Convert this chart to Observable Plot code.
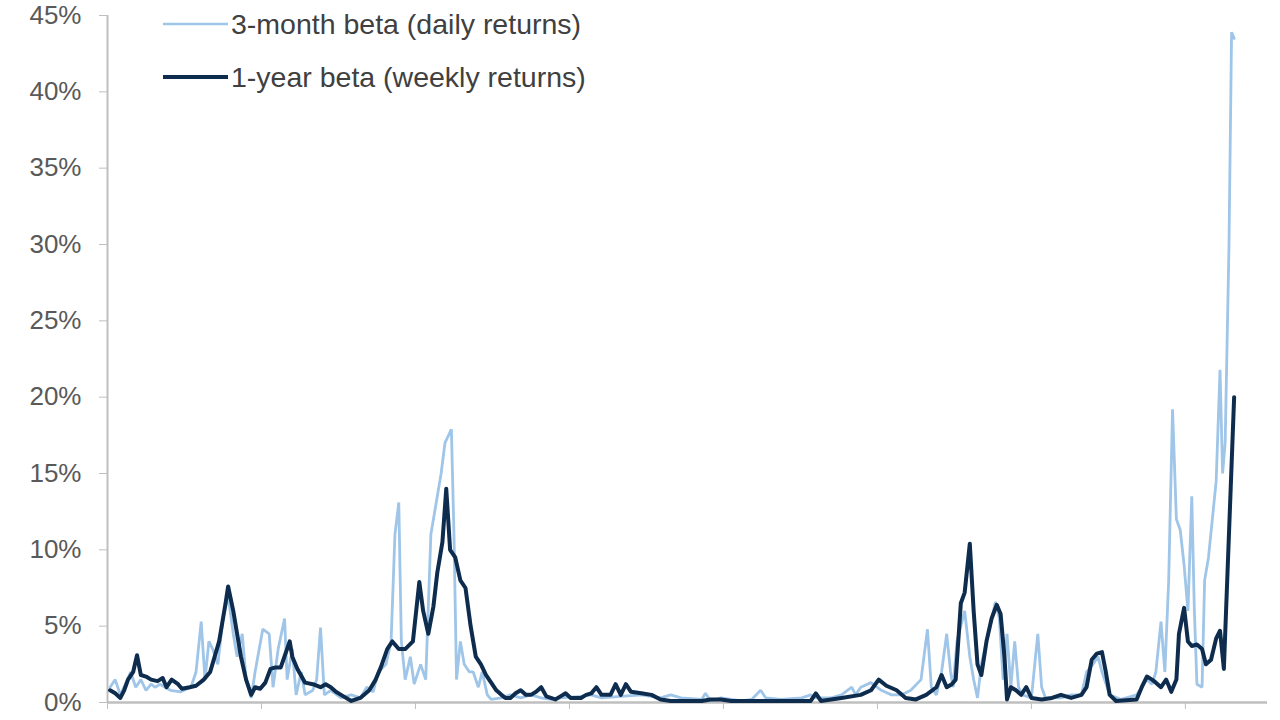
<!DOCTYPE html>
<html>
<head>
<meta charset="utf-8">
<script src="https://cdn.jsdelivr.net/npm/d3@7"></script>
<script src="https://cdn.jsdelivr.net/npm/@observablehq/plot@0.6"></script>
<style>
  html, body { margin: 0; padding: 0; background: #fff; }
  #wrap { position: relative; width: 1280px; height: 720px; overflow: hidden; }
  .legend-row { position: absolute; left: 163px; height: 30px; display: flex; align-items: center;
    font-family: "Liberation Sans", Arial, sans-serif; font-size: 28.5px; color: #404040; white-space: nowrap; }
  .legend-row svg { display: block; margin-right: 3px; }
</style>
</head>
<body>
<div id="wrap"></div>
<script>
// Series names (legend)
const seriesNames = ["3-month beta (daily returns)", "1-year beta (weekly returns)"];
const seriesColors = ["#9fc5e8", "#0e2c4e"];

// y-axis ticks (percent)
const yTicks = [0, 5, 10, 15, 20, 25, 30, 35, 40, 45];
// x-axis ticks (months since start of axis; one tick per year, labels not visible)
const xTicks = [0, 12, 24, 36, 48, 60, 72, 84];
const xEnd = 90.4;

// 3-month beta (daily returns): [month, percent]
const beta3m = [
  [0.2,1.0],[0.6,1.5],[1.0,0.5],[1.4,1.2],[1.8,2.0],[2.2,1.0],[2.6,1.5],[3.0,0.8],[3.4,1.2],[3.7,1.0],
  [4.1,1.2],[4.9,0.8],[5.7,0.7],[6.5,1.0],[6.9,2.0],[7.3,5.3],[7.6,1.5],[7.9,4.0],[8.2,3.5],[8.6,2.5],
  [9.0,5.5],[9.4,7.0],[9.8,4.5],[10.1,3.0],[10.5,4.5],[10.8,1.5],[11.2,0.3],[11.5,2.0],[12.1,4.8],[12.6,4.5],
  [12.9,1.0],[13.3,3.5],[13.8,5.5],[14.0,1.5],[14.4,3.5],[14.7,0.5],[15.1,2.0],[15.4,0.5],[16.0,0.8],[16.3,1.5],
  [16.6,4.9],[16.9,0.5],[17.4,0.8],[18.2,0.3],[19.0,0.5],[19.7,0.3],[20.2,1.0],[20.7,0.7],[21.1,2.0],[21.7,2.5],
  [22.1,4.0],[22.4,11.0],[22.7,13.1],[22.9,4.0],[23.2,1.5],[23.6,3.0],[23.9,1.2],[24.4,2.5],[24.8,1.5],[25.2,11.0],
  [25.6,13.0],[26.0,15.0],[26.3,17.0],[26.8,17.9],[27.0,11.0],[27.2,1.5],[27.5,4.0],[27.8,2.5],[28.2,2.0],[28.5,2.0],
  [28.9,1.0],[29.2,2.0],[29.6,0.5],[29.9,0.2],[30.7,0.3],[31.4,0.5],[32.2,0.3],[33.0,0.5],[33.8,0.3],[34.6,0.2],
  [35.3,0.3],[36.9,0.4],[37.7,0.5],[38.5,0.3],[40.0,0.4],[41.6,0.5],[43.1,0.3],[43.9,0.5],[44.7,0.3],[46.3,0.2],
  [46.6,0.6],[47.0,0.1],[47.8,0.3],[49.4,0.1],[50.2,0.2],[50.9,0.8],[51.3,0.3],[52.5,0.2],[54.1,0.3],[54.8,0.5],
  [55.2,0.3],[56.4,0.3],[57.2,0.5],[58.0,1.0],[58.3,0.5],[58.7,1.0],[59.5,1.3],[60.3,0.8],[61.1,0.5],[61.9,0.5],
  [62.6,0.8],[63.4,1.5],[63.9,4.8],[64.2,1.0],[64.6,0.5],[65.0,2.0],[65.4,4.5],[65.7,2.0],[65.9,1.0],[66.2,4.0],
  [66.5,5.0],[66.8,6.0],[67.2,3.0],[67.5,1.5],[67.8,0.3],[68.1,2.5],[68.5,4.0],[68.9,5.5],[69.2,6.6],[69.5,5.5],
  [69.8,1.5],[70.1,4.5],[70.4,1.0],[70.7,4.0],[71.0,1.0],[71.3,0.5],[72.0,0.3],[72.5,4.5],[72.8,1.0],[73.1,0.3],
  [74.3,0.3],[75.1,0.5],[75.9,0.5],[76.3,2.0],[76.8,2.5],[77.2,3.0],[77.5,2.0],[78.1,0.5],[79.0,0.2],[80.2,0.5],
  [80.6,1.0],[81.0,1.5],[81.4,1.2],[81.7,2.0],[82.1,5.3],[82.4,2.0],[82.7,8.0],[83.0,19.2],[83.3,12.0],[83.6,11.3],
  [83.9,9.0],[84.2,6.0],[84.5,13.5],[84.7,6.0],[84.9,1.2],[85.3,1.0],[85.5,8.0],[85.8,9.5],[86.1,12.0],[86.4,14.5],
  [86.7,21.8],[86.9,15.0],[87.1,17.0],[87.4,30.0],[87.6,43.9],[87.8,43.5]
];

// 1-year beta (weekly returns): [month, percent]
const beta1y = [
  [0.2,0.8],[0.6,0.6],[1.0,0.3],[1.3,0.8],[1.6,1.5],[2.0,2.0],[2.3,3.1],[2.6,1.8],[3.0,1.7],[3.4,1.5],
  [3.9,1.4],[4.3,1.6],[4.6,1.0],[5.0,1.5],[5.5,1.2],[5.8,0.9],[6.4,1.0],[6.9,1.1],[7.5,1.5],[8.0,2.0],
  [8.7,4.0],[9.2,6.5],[9.4,7.6],[9.8,6.0],[10.1,4.5],[10.4,3.0],[10.8,1.5],[11.2,0.5],[11.5,1.0],[11.9,0.9],
  [12.3,1.3],[12.7,2.2],[13.1,2.3],[13.5,2.3],[14.2,4.0],[14.4,3.0],[14.8,2.2],[15.4,1.3],[16.0,1.2],[16.6,1.0],
  [17.0,1.2],[17.4,1.0],[17.8,0.7],[18.2,0.5],[19.0,0.1],[19.7,0.3],[20.4,0.8],[20.9,1.5],[21.3,2.3],[21.8,3.5],
  [22.2,4.0],[22.7,3.5],[23.2,3.5],[23.8,4.0],[24.3,7.9],[24.6,6.0],[25.0,4.5],[25.4,6.3],[25.7,8.5],[26.1,10.5],
  [26.4,14.0],[26.7,10.0],[27.1,9.5],[27.5,8.0],[27.9,7.5],[28.3,5.0],[28.7,3.0],[29.1,2.5],[29.5,1.8],[29.9,1.3],
  [30.3,0.8],[30.7,0.5],[31.0,0.3],[31.4,0.3],[31.8,0.6],[32.2,0.8],[32.6,0.5],[33.0,0.5],[33.4,0.7],[33.8,1.0],
  [34.2,0.4],[34.9,0.2],[35.3,0.4],[35.7,0.6],[36.1,0.3],[36.9,0.3],[37.3,0.5],[37.7,0.6],[38.1,1.0],[38.5,0.5],
  [39.2,0.5],[39.6,1.2],[40.0,0.5],[40.4,1.2],[40.8,0.7],[41.6,0.6],[42.4,0.5],[43.1,0.2],[43.9,0.1],[45.5,0.1],
  [46.3,0.1],[47.0,0.2],[47.8,0.2],[48.6,0.1],[50.9,0.1],[53.3,0.1],[54.8,0.1],[55.2,0.6],[55.6,0.1],[57.2,0.3],
  [58.7,0.5],[59.5,0.8],[60.1,1.5],[60.7,1.1],[61.5,0.8],[62.2,0.3],[63.0,0.2],[63.8,0.5],[64.6,1.0],[65.0,1.8],
  [65.4,1.0],[65.8,1.2],[66.1,1.5],[66.5,6.5],[66.8,7.2],[67.2,10.4],[67.5,6.0],[67.8,2.5],[68.1,1.8],[68.5,4.0],
  [68.9,5.5],[69.3,6.4],[69.6,5.8],[69.9,3.0],[70.1,0.2],[70.4,1.0],[70.8,0.8],[71.2,0.5],[71.6,1.0],[72.0,0.3],
  [72.8,0.2],[73.6,0.3],[74.3,0.5],[75.1,0.3],[75.9,0.5],[76.3,1.0],[76.7,2.8],[77.1,3.2],[77.5,3.3],[77.8,2.0],
  [78.1,0.5],[78.6,0.1],[80.2,0.2],[80.6,1.0],[81.0,1.7],[81.4,1.5],[81.7,1.3],[82.1,1.0],[82.5,1.5],[82.9,0.7],
  [83.3,1.5],[83.5,4.5],[83.9,6.2],[84.2,4.0],[84.5,3.7],[84.9,3.8],[85.3,3.5],[85.6,2.5],[86.0,2.8],[86.4,4.2],
  [86.7,4.7],[87.0,2.2],[87.8,20.0]
];

const toRows = (arr, name) => arr.map(([m, v]) => ({month: m, beta: v, series: name}));
const rows3m = toRows(beta3m, seriesNames[0]);
const rows1y = toRows(beta1y, seriesNames[1]);

const axisColor = "#bfbfbf";
const chart = Plot.plot({
  width: 1280,
  height: 720,
  marginLeft: 107,
  marginRight: 13,
  marginTop: 15,
  marginBottom: 18,
  style: { fontFamily: "'Liberation Sans', Arial, sans-serif", fontSize: "26px", color: "#595959", background: "#fff", overflow: "visible" },
  x: { domain: [0, xEnd] },
  y: { domain: [0, 45] },
  marks: [
    Plot.axisY({ ticks: yTicks, tickFormat: d => d + "%", tickSize: 8, tickPadding: 18, stroke: axisColor, fill: "#595959", label: null }),
    Plot.axisX({ ticks: xTicks, tickFormat: () => "", tickSize: 7, stroke: axisColor, label: null }),
    Plot.ruleX([0], { stroke: axisColor, strokeWidth: 2 }),
    Plot.ruleY([0], { stroke: axisColor, strokeWidth: 2.5 }),
    Plot.line(rows3m, { x: "month", y: "beta", stroke: seriesColors[0], strokeWidth: 2.8, strokeLinejoin: "miter" }),
    Plot.line(rows1y, { x: "month", y: "beta", stroke: seriesColors[1], strokeWidth: 4, strokeLinejoin: "round" })
  ]
});
const wrap = document.getElementById("wrap");
wrap.appendChild(chart);

// Legend (inside plot area, top-left)
const legendCenters = [24, 77];
const legendWidths = [2.5, 4];
seriesNames.forEach((name, i) => {
  const row = document.createElement("div");
  row.className = "legend-row";
  row.style.top = (legendCenters[i] - 15) + "px";
  row.innerHTML = `<svg width="65" height="30"><line x1="0" x2="65" y1="15" y2="15" stroke="${seriesColors[i]}" stroke-width="${legendWidths[i]}"/></svg><span>${name}</span>`;
  wrap.appendChild(row);
});
</script>
</body>
</html>
